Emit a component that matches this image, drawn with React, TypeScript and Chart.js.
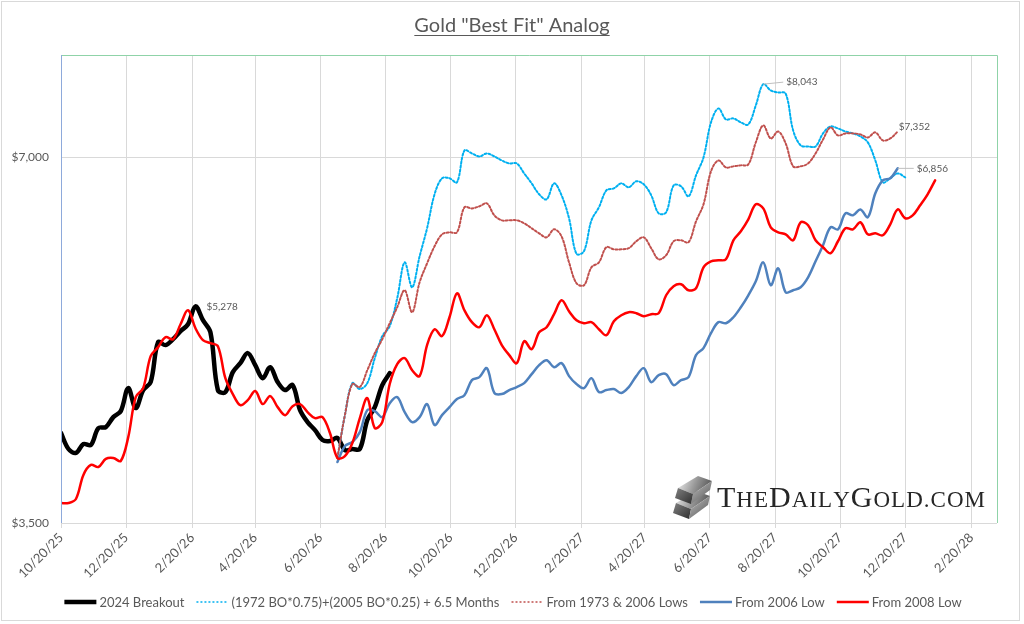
import React, { useEffect, useRef } from 'react';
import { Chart, ChartConfiguration, Plugin, registerables } from 'chart.js';

Chart.register(...registerables);

// x values are days after 10/20/25, one value per week
const START = Date.UTC(2025, 9, 20);
const DAY_MS = 86400000;
const WEEK = 7;
const PROJECTION_START_DAY = 259;

const tickLabels = [
  '10/20/25', '12/20/25', '2/20/26', '4/20/26', '6/20/26', '8/20/26', '10/20/26', '12/20/26',
  '2/20/27', '4/20/27', '6/20/27', '8/20/27', '10/20/27', '12/20/27', '2/20/28'
];
const yTicks = [3500, 7000];

const breakout2024 = [
  4151, 4027, 3997, 4065, 4058, 4190, 4198, 4278, 4327, 4520,
  4352, 4503, 4572, 4931, 4904, 4959, 5035, 5102, 5278, 5141,
  5025, 4503, 4486, 4659, 4739, 4830, 4721, 4606, 4703, 4572,
  4503, 4546, 4335, 4238, 4174, 4096, 4088, 4112, 4019, 4027,
  4027, 4254, 4360, 4546, 4650
];

const bestFit = [
  3959, 4294, 4563, 4512, 4563, 4784, 4988, 5083, 5359, 5737,
  5472, 5803, 6120, 6527, 6728, 6728, 6677, 7093, 7053, 7013,
  7053, 7013, 6960, 6921, 6921, 6791, 6664, 6527, 6465, 6664,
  6515, 6237, 5830, 5860, 6213, 6368, 6576, 6601, 6664, 6614,
  6690, 6652, 6515, 6296, 6308, 6639, 6627, 6502, 6766, 7000,
  7480, 7681, 7523, 7537, 7480, 7452, 7725, 8043, 7947, 7917,
  7902, 7367, 7161, 7147, 7147, 7326, 7423, 7395, 7353, 7326,
  7284, 7202, 6960, 6677, 6728, 6791, 6740
];

const from1973And2006 = [
  3959, 4294, 4555, 4529, 4676, 4829, 4959, 5112, 5269, 5441,
  5219, 5524, 5726, 5915, 6050, 6073, 6073, 6368, 6355, 6380,
  6416, 6272, 6213, 6213, 6213, 6178, 6120, 6062, 6016, 6108,
  6027, 5737, 5514, 5493, 5683, 5737, 5904, 5881, 5881, 5893,
  5971, 6016, 5893, 5770, 5815, 5971, 5982, 5960, 6201, 6404,
  6817, 6960, 6869, 6882, 6895, 6908, 7202, 7438, 7256, 7353,
  7188, 6882, 6882, 6921, 7053, 7242, 7409, 7298, 7326, 7326,
  7312, 7270, 7340, 7229, 7256, 7352
];

const from2006 = [
  3929, 4050, 4081, 4158, 4335, 4327, 4278, 4393, 4443, 4319,
  4238, 4278, 4385, 4214, 4294, 4360, 4427, 4460, 4589, 4615,
  4694, 4480, 4469, 4503, 4529, 4563, 4641, 4721, 4766, 4703,
  4739, 4624, 4555, 4520, 4606, 4486, 4503, 4512, 4478, 4529,
  4624, 4694, 4572, 4632, 4641, 4546, 4589, 4615, 4812, 4876,
  5016, 5122, 5112, 5170, 5269, 5390, 5535, 5737, 5493, 5672,
  5420, 5441, 5472, 5576, 5748, 5926, 6131, 6108, 6296, 6272,
  6343, 6249, 6539, 6702, 6728, 6856
];

const from2008 = [
  3635, 3635, 3663, 3834, 3907, 3892, 3952, 3959, 3937, 4119,
  4443, 4520, 4802, 4885, 4978, 4959, 5102, 5239, 5063, 4950,
  4922, 4894, 4606, 4469, 4376, 4418, 4495, 4385, 4452, 4360,
  4294, 4368, 4385, 4319, 4270, 4278, 4151, 3959, 3974, 4073,
  4270, 4435, 4190, 4238, 4555, 4730, 4784, 4676, 4624, 4904,
  5054, 4988, 5170, 5410, 5239, 5122, 5073, 5190, 5054, 4904,
  4812, 4739, 4941, 4866, 5025, 5073, 5200, 5339, 5229, 5141,
  5112, 5122, 5054, 4997, 5131, 5190, 5220, 5210, 5180, 5200,
  5210, 5390, 5483, 5503, 5441, 5462, 5683, 5748, 5759, 5770,
  5982, 6085, 6225, 6404, 6355, 6131, 6073, 6050, 5982, 6190,
  6155, 5982, 5904, 5837, 5971, 6120, 6108, 6190, 6050, 6062,
  6039, 6166, 6343, 6237, 6272, 6392, 6527, 6702
];

const FONT = 'Lato, "Open Sans", sans-serif';
const TEXT = '#595959';

const dayOf = (label: string) => {
  const [m, d, y] = label.split('/').map(Number);
  return Math.round((Date.UTC(2000 + y, m - 1, d) - START) / DAY_MS);
};
const tickDays = tickLabels.map(dayOf);

const toPoints = (values: number[], startDay: number) =>
  values.map((v, i) => ({ x: startDay + i * WEEK, y: v }));

const money = (v: number) => '$' + Math.round(v).toLocaleString('en-US');

// dataset index, point index, label placement
const callouts = [
  { ds: 0, idx: 18, dx: 11, dy: 0, leader: false },
  { ds: 1, idx: 57, dx: 23, dy: -2, leader: true },
  { ds: 2, idx: 75, dx: 1, dy: -5, leader: false },
  { ds: 3, idx: 75, dx: 19, dy: 0, leader: true }
];

const legendItems = [
  { label: '2024 Breakout', color: '#000000', width: 4.5, dash: [] as number[] },
  { label: '(1972 BO*0.75)+(2005 BO*0.25) + 6.5 Months', color: '#00b0f0', width: 1.5, dash: [2, 2] },
  { label: 'From 1973 & 2006 Lows', color: '#c0504d', width: 1.5, dash: [2, 2] },
  { label: 'From 2006 Low', color: '#4f81bd', width: 2.5, dash: [] as number[] },
  { label: 'From 2008 Low', color: '#ff0000', width: 2.5, dash: [] as number[] }
];

const drawLogo = (ctx: CanvasRenderingContext2D) => {
  ctx.save();
  // gold bar icon
  const bar = (ox: number, oy: number) => {
    let g = ctx.createLinearGradient(ox, oy, ox + 34, oy + 14);
    g.addColorStop(0, '#f2f2f2');
    g.addColorStop(0.5, '#9a9a9a');
    g.addColorStop(1, '#4d4d4d');
    ctx.fillStyle = g;
    ctx.beginPath();
    ctx.moveTo(ox, oy + 12);
    ctx.lineTo(ox + 20, oy);
    ctx.lineTo(ox + 34, oy + 5);
    ctx.lineTo(ox + 15, oy + 18);
    ctx.closePath();
    ctx.fill();
    g = ctx.createLinearGradient(ox, oy + 12, ox + 15, oy + 28);
    g.addColorStop(0, '#7a7a7a');
    g.addColorStop(1, '#2e2e2e');
    ctx.fillStyle = g;
    ctx.beginPath();
    ctx.moveTo(ox, oy + 12);
    ctx.lineTo(ox + 15, oy + 18);
    ctx.lineTo(ox + 13, oy + 28);
    ctx.lineTo(ox - 3, oy + 22);
    ctx.closePath();
    ctx.fill();
    g = ctx.createLinearGradient(ox + 15, oy + 5, ox + 34, oy + 25);
    g.addColorStop(0, '#bdbdbd');
    g.addColorStop(1, '#595959');
    ctx.fillStyle = g;
    ctx.beginPath();
    ctx.moveTo(ox + 15, oy + 18);
    ctx.lineTo(ox + 34, oy + 5);
    ctx.lineTo(ox + 32, oy + 14);
    ctx.lineTo(ox + 13, oy + 28);
    ctx.closePath();
    ctx.fill();
  };
  bar(676, 491);
  bar(678, 476);

  const chars = 'THEDAILYGOLD.COM'.split('');
  const big = [0, 3, 8];
  const fontFor = (i: number) =>
    big.includes(i) ? '30px "Liberation Serif", "DejaVu Serif", serif' : '23px "Liberation Serif", "DejaVu Serif", serif';
  let total = 0;
  const widths = chars.map((c, i) => {
    ctx.font = fontFor(i);
    const w = ctx.measureText(c).width;
    total += w;
    return w;
  });
  const left = 717;
  const right = 985;
  const gap = (right - left - total) / (chars.length - 1);
  let x = left;
  ctx.fillStyle = '#262626';
  ctx.textBaseline = 'alphabetic';
  ctx.textAlign = 'left';
  chars.forEach((c, i) => {
    ctx.font = fontFor(i);
    ctx.fillText(c, x, 507);
    x += widths[i] + gap;
  });
  ctx.restore();
};

const overlayPlugin: Plugin<'line'> = {
  id: 'overlay',
  afterDatasetsDraw(chart) {
    const { ctx } = chart;
    ctx.save();
    ctx.font = `10px ${FONT}`;
    ctx.fillStyle = TEXT;
    ctx.textBaseline = 'middle';
    ctx.textAlign = 'left';
    callouts.forEach((c) => {
      const pt = chart.getDatasetMeta(c.ds).data[c.idx];
      const value = chart.data.datasets[c.ds].data[c.idx] as { y: number };
      if (!pt) return;
      if (c.leader) {
        ctx.strokeStyle = '#bfbfbf';
        ctx.lineWidth = 1;
        ctx.beginPath();
        ctx.moveTo(pt.x, pt.y);
        ctx.lineTo(pt.x + c.dx - 3, pt.y + c.dy);
        ctx.stroke();
      }
      ctx.fillText(money(value.y), pt.x + c.dx, pt.y + c.dy);
    });
    ctx.restore();
  },
  afterDraw(chart) {
    const { ctx, chartArea: a, width } = chart;
    ctx.save();

    // plot area border
    ctx.lineWidth = 1;
    ctx.strokeStyle = '#8fd3a8';
    ctx.beginPath();
    ctx.moveTo(a.left, a.top + 0.5);
    ctx.lineTo(a.right + 0.5, a.top + 0.5);
    ctx.lineTo(a.right + 0.5, a.bottom);
    ctx.stroke();
    ctx.strokeStyle = '#8eaadb';
    ctx.beginPath();
    ctx.moveTo(a.left + 0.5, a.top);
    ctx.lineTo(a.left + 0.5, a.bottom);
    ctx.stroke();

    // title
    const title = 'Gold "Best Fit" Analog';
    ctx.font = `20px ${FONT}`;
    ctx.fillStyle = TEXT;
    ctx.textAlign = 'center';
    ctx.textBaseline = 'alphabetic';
    ctx.fillText(title, width / 2, 32);
    const tw = ctx.measureText(title).width;
    ctx.strokeStyle = TEXT;
    ctx.lineWidth = 1.2;
    ctx.beginPath();
    ctx.moveTo(width / 2 - tw / 2, 35.5);
    ctx.lineTo(width / 2 + tw / 2, 35.5);
    ctx.stroke();

    // legend
    ctx.font = `13px ${FONT}`;
    const sample = 32;
    const pad = 3;
    const spacing = 12;
    const widths = legendItems.map((it) => ctx.measureText(it.label).width);
    const total = widths.reduce((s, w) => s + sample + pad + w, 0) + spacing * (legendItems.length - 1);
    let x = 513 - total / 2;
    const ly = 602;
    ctx.textAlign = 'left';
    ctx.textBaseline = 'middle';
    legendItems.forEach((it, i) => {
      ctx.strokeStyle = it.color;
      ctx.lineWidth = it.width;
      ctx.setLineDash(it.dash);
      ctx.beginPath();
      ctx.moveTo(x, ly);
      ctx.lineTo(x + sample, ly);
      ctx.stroke();
      ctx.setLineDash([]);
      ctx.fillStyle = TEXT;
      ctx.fillText(it.label, x + sample + pad, ly + 1);
      x += sample + pad + widths[i] + spacing;
    });
    ctx.restore();

    drawLogo(ctx);
  }
};

export default function App() {
  const canvasRef = useRef<HTMLCanvasElement>(null);
  const chartRef = useRef<Chart | null>(null);

  useEffect(() => {
    document.body.style.margin = '0';
    if (!canvasRef.current) return;
    if (chartRef.current) chartRef.current.destroy();

    const config: ChartConfiguration<'line'> = {
      type: 'line',
      data: {
        datasets: [
          {
            label: legendItems[0].label,
            data: toPoints(breakout2024, 0),
            borderColor: '#000000',
            borderWidth: 4.5,
            order: 5
          },
          {
            label: legendItems[1].label,
            data: toPoints(bestFit, PROJECTION_START_DAY),
            borderColor: '#00b0f0',
            borderWidth: 2,
            borderDash: [2, 2],
            order: 4
          },
          {
            label: legendItems[2].label,
            data: toPoints(from1973And2006, PROJECTION_START_DAY),
            borderColor: '#c0504d',
            borderWidth: 2,
            borderDash: [2, 2],
            order: 3
          },
          {
            label: legendItems[3].label,
            data: toPoints(from2006, PROJECTION_START_DAY),
            borderColor: '#4f81bd',
            borderWidth: 2.5,
            order: 2
          },
          {
            label: legendItems[4].label,
            data: toPoints(from2008, 0),
            borderColor: '#ff0000',
            borderWidth: 2.5,
            order: 1
          }
        ]
      },
      options: {
        responsive: true,
        maintainAspectRatio: false,
        animation: false,
        events: [],
        elements: {
          point: { radius: 0 },
          line: { tension: 0.35, fill: false, borderCapStyle: 'round', borderJoinStyle: 'round' }
        },
        layout: { padding: { top: 55, right: 27, left: 0, bottom: 0 } },
        scales: {
          x: {
            type: 'linear',
            min: 0,
            max: 877,
            afterBuildTicks: (scale) => {
              scale.ticks = tickDays.map((v) => ({ value: v }));
            },
            afterFit: (scale) => {
              scale.height = 101;
            },
            ticks: {
              callback: (_v, i) => tickLabels[i],
              minRotation: 45,
              maxRotation: 45,
              autoSkip: false,
              padding: 2,
              color: TEXT,
              font: { family: FONT, size: 13 }
            },
            grid: { color: '#d9d9d9', tickLength: 5, drawTicks: true },
            border: { display: false }
          },
          y: {
            type: 'logarithmic',
            min: 3500,
            max: 8500,
            afterBuildTicks: (scale) => {
              scale.ticks = yTicks.map((v) => ({ value: v }));
            },
            afterFit: (scale) => {
              scale.width = 61;
            },
            ticks: {
              callback: (v) => money(Number(v)),
              padding: 12,
              color: TEXT,
              font: { family: FONT, size: 12 }
            },
            grid: { color: '#d9d9d9', drawTicks: false },
            border: { display: false }
          }
        },
        plugins: {
          legend: { display: false },
          title: { display: false },
          tooltip: { enabled: false }
        }
      },
      plugins: [overlayPlugin]
    };

    chartRef.current = new Chart(canvasRef.current, config);
    return () => {
      if (chartRef.current) {
        chartRef.current.destroy();
        chartRef.current = null;
      }
    };
  }, []);

  return (
    <div style={{ position: 'relative', width: 1024, height: 624, background: '#ffffff' }}>
      <div
        style={{
          position: 'absolute',
          left: 1,
          top: 1,
          width: 1019,
          height: 620,
          border: '1px solid #d9d9d9',
          boxSizing: 'border-box',
          pointerEvents: 'none'
        }}
      />
      <canvas ref={canvasRef} />
    </div>
  );
}
